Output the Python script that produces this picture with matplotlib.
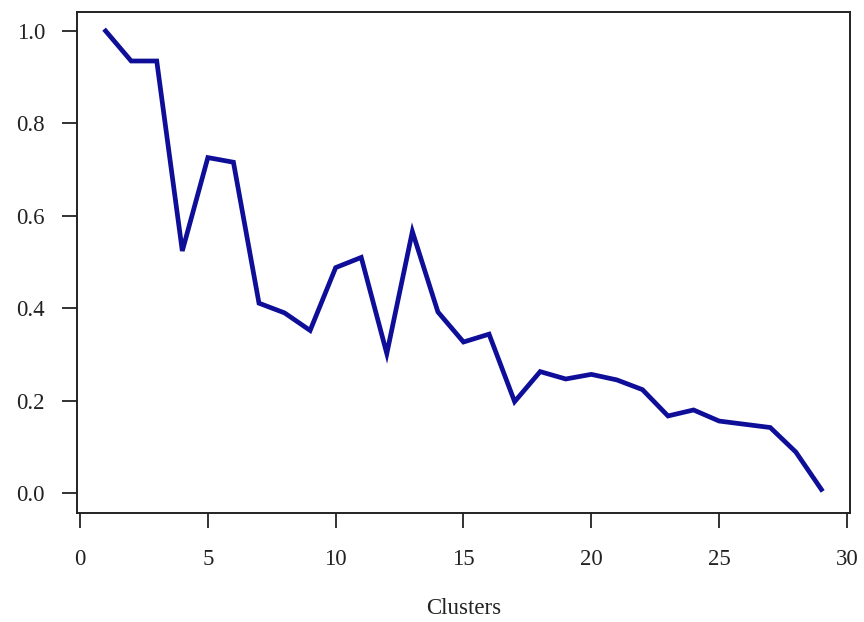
import matplotlib.pyplot as plt
import numpy as np

clusters = np.arange(1, 30)
score = [1.000, 0.935, 0.935, 0.524, 0.726, 0.716, 0.411, 0.390, 0.352,
         0.488, 0.510, 0.302, 0.566, 0.392, 0.327, 0.344, 0.198, 0.263,
         0.247, 0.257, 0.245, 0.224, 0.167, 0.180, 0.156, 0.149, 0.142,
         0.089, 0.008]
xticks = [0, 5, 10, 15, 20, 25, 30]
yticks = [0.0, 0.2, 0.4, 0.6, 0.8, 1.0]

plt.rcParams['font.family'] = 'Liberation Serif'

fig = plt.figure(figsize=(8.64, 6.22), dpi=100)
ax = fig.add_axes([0.0891, 0.1752, 0.8947, 0.8055])
ax.plot(clusters, score, color='#0e0e98', lw=3.4, solid_joinstyle='miter')

ax.set_xlim(-0.12, 30.12)
ax.set_ylim(-0.043, 1.041)
ax.set_xticks(xticks)
ax.set_yticks(yticks)
ax.set_xticklabels([str(t) for t in xticks])
ax.set_yticklabels(['%.1f' % t for t in yticks])
ax.tick_params(direction='out', length=11, width=1.3, labelsize=16.5,
               colors='#222222')
ax.tick_params(axis='x', pad=15)
ax.tick_params(axis='y', pad=12)
for s in ax.spines.values():
    s.set_linewidth(1.4)
    s.set_color('#222222')

fig.text(463.5 / 864, 1 - 608 / 622, 'Clusters', ha='center', va='center',
         fontsize=16.5, color='#222222')

fig.savefig('out.png', dpi=100)
